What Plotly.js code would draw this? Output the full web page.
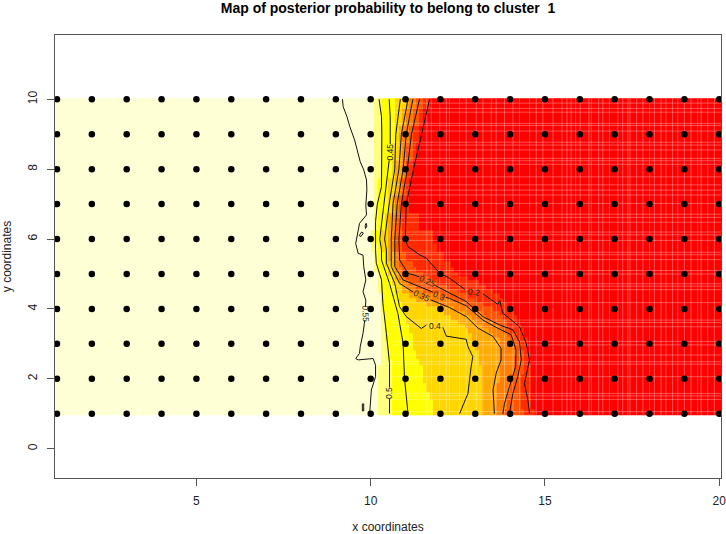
<!DOCTYPE html>
<html><head><meta charset="utf-8">
<script src="https://cdn.plot.ly/plotly-3.0.1.min.js"></script>
<style>html,body{margin:0;padding:0;background:#fff}</style></head>
<body><div id="chart" style="width:726px;height:534px"></div>
<script>
const gridX=[1,2,3,4,5,6,7,8,9,10,11,12,13,14,15,16,17,18,19,20];
const gridY=[1,2,3,4,5,6,7,8,9,10];
const bandColors=['#FFFFD5','#FFFF80','#FFFF00','#FFD700','#FFAA00','#FF8000','#FF5500','#FF2A00','#FF0000'];
const rowY=[10,9.5,9,8.5,8,7.5,7,6.5,6,5.75,5.5,5.25,5.125,5,4.875,4.75,4.625,4.5,4.375,4.25,4.125,4,3.875,3.75,3.625,3.5,3.375,3.25,3.125,3,2.875,2.75,2.625,2.5,2.25,2,1.75,1.5,1.25,1];
const rowBreaks=[
[10.11,10.26,10.75,10.97,11.12,11.3,11.55,11.7],
[10.12,10.3,10.7,10.88,11.02,11.18,11.38,11.52],
[10.12,10.32,10.66,10.8,10.94,11.08,11.25,11.38],
[10.12,10.32,10.64,10.78,10.9,11.03,11.15,11.26],
[10.12,10.3,10.62,10.75,10.87,10.98,11.05,11.17],
[10.12,10.25,10.55,10.66,10.78,10.88,10.97,11.1],
[10.1,10.19,10.47,10.58,10.7,10.8,10.9,11.07],
[10.06,10.16,10.38,10.52,10.64,10.74,10.88,11.36],
[10.02,10.14,10.33,10.5,10.62,10.72,10.9,11.79],
[10.04,10.15,10.35,10.5,10.62,10.72,10.95,11.95],
[10.07,10.17,10.38,10.53,10.65,10.76,11.05,12.1],
[10.1,10.2,10.45,10.6,10.7,10.85,11.2,12.3],
[10.12,10.23,10.5,10.64,10.75,10.9,11.35,12.4],
[10.15,10.26,10.54,10.68,10.8,10.95,11.5,12.55],
[10.17,10.28,10.58,10.73,10.85,11.02,11.7,12.85],
[10.2,10.3,10.62,10.78,10.9,11.1,11.9,13.1],
[10.22,10.31,10.67,10.86,11.0,11.28,12.2,13.3],
[10.24,10.32,10.72,10.95,11.1,11.5,12.5,13.5],
[10.26,10.33,10.77,11.1,11.4,12.0,12.8,13.65],
[10.27,10.34,10.82,11.3,11.7,12.4,13.0,13.8],
[10.29,10.35,10.88,11.6,12.05,12.65,13.25,13.95],
[10.3,10.35,10.93,11.88,12.4,12.9,13.5,14.05],
[10.3,10.36,10.97,12.1,12.65,13.15,13.65,14.12],
[10.31,10.38,11.0,12.3,12.9,13.35,13.8,14.2],
[10.32,10.39,11.04,12.55,13.05,13.55,13.88,14.25],
[10.32,10.4,11.08,12.75,13.25,13.7,13.95,14.3],
[10.33,10.42,11.12,12.85,13.42,13.85,14.05,14.36],
[10.33,10.43,11.15,12.9,13.55,13.95,14.15,14.42],
[10.33,10.45,11.18,12.95,13.65,14.03,14.22,14.46],
[10.33,10.47,11.21,13.0,13.75,14.1,14.3,14.5],
[10.32,10.5,11.25,13.04,13.75,14.13,14.34,14.52],
[10.3,10.52,11.3,13.08,13.75,14.15,14.37,14.53],
[10.28,10.54,11.34,13.1,13.74,14.14,14.39,14.54],
[10.27,10.56,11.38,13.12,13.72,14.12,14.4,14.55],
[10.24,10.6,11.47,13.15,13.68,14.08,14.38,14.56],
[10.21,10.62,11.55,13.17,13.65,14.05,14.35,14.56],
[10.2,10.63,11.62,13.18,13.63,14.0,14.32,14.58],
[10.18,10.63,11.7,13.19,13.62,13.95,14.3,14.6],
[10.17,10.62,11.77,13.2,13.6,13.9,14.35,14.62],
[10.16,10.62,11.83,13.2,13.6,13.85,14.4,14.65]];
const seamX=[11.61,11.74,11.98,12.17,12.26,12.55,12.74,13.03,13.22,13.46,13.60,13.84,14.08,14.27,14.56,14.75,14.94,15.23,15.49,15.63,15.75,15.88,16.01,16.26,16.33,16.54,16.66,16.85,17.09,17.23,17.38,17.44,17.63,17.81,18.0,18.14,18.33,18.47,18.66,18.81,19.0,19.19,19.38,19.48,19.67,19.86];
const seamY=[9.89,9.74,9.63,9.31,9.25,9.09,8.77,8.69,8.55,8.31,8.24,8.14,7.78,7.55,7.40,7.26,7.02,6.71,6.62,6.48,6.2,6.12,5.96,5.62,5.55,5.41,5.1,5.0,4.72,4.65,4.55,4.18,3.68,3.61,3.49,3.07,2.97,2.68,2.49,2.42,2.06,1.58,1.51,1.41,1.06];

const c55x=[9.19,9.21,9.32,9.40,9.54,9.64,9.70,9.80,9.88,9.89,9.86,9.88,9.68,9.57,9.64,9.78,9.80,9.86,9.78,9.86,9.85,null,9.83,9.78,9.70,9.68,9.57,9.64,10.07,10.14,10.14,10.02,9.97,null,9.85,9.89,9.87,9.84,9.85,null,9.67,9.74,9.79,9.72,9.67,null,9.76,9.80,9.80,9.76,9.76];
const c55y=[10,9.79,9.50,9.22,8.83,8.45,8.21,7.98,7.69,7.40,6.97,6.69,6.45,5.87,5.59,5.54,5.21,4.83,4.49,4.25,4.06,null,3.68,3.30,2.92,2.73,2.58,2.54,2.58,2.39,2.06,1.68,1.01,null,6.30,6.37,6.45,6.38,6.30,null,6.10,6.20,6.17,6.07,6.10,null,1.08,1.08,1.28,1.28,1.08];
const c50x=[10.24,10.31,10.32,10.32,10.31,10.31,10.19,10.14,10.14,10.16,10.31,10.35,10.45,10.54,10.54,null,10.54,10.54];
const c50y=[10,9.5,9,8.5,8,7.5,7,6.5,5.69,5.31,4.83,4.16,3.30,2.44,1.75,null,1.42,1.01];
const c45x=[10.53,10.56,10.56,null,10.53,10.50,10.37,10.26,10.31,10.31,10.54,10.78,10.93,10.97,11.07];
const c45y=[10,9.5,8.72,null,8.25,8,7,6,5.69,5.40,4.73,3.87,3.01,2.01,1.01];
const c40x=[10.85,10.72,10.69,10.53,10.40,10.45,10.45,10.69,10.83,11.02,11.45,11.6,null,12.07,12.17,12.74,12.79,12.93,12.88,12.79,12.55];
const c40y=[10,9,8,7,6,5.69,5.31,4.73,4.06,3.78,3.44,3.54,null,3.47,3.22,3.13,2.92,2.63,2.34,1.58,1.0];
const c35x=[11.07,10.88,10.81,10.64,10.59,10.59,10.59,10.83,11.21,null,11.72,11.98,12.26,12.74,13.08,13.51,13.74,13.74,13.60,13.51,13.55];
const c35y=[10,9,8,7,6,5.69,5.21,4.73,4.49,null,4.26,4.16,4.04,3.78,3.45,3.21,2.87,2.54,2.16,1.68,1.0];
const c30x=[11.21,11.02,10.93,10.76,10.69,10.69,10.69,10.93,11.40,11.78,null,12.16,12.26,12.74,13.22,13.60,14.03,14.17,14.16,13.98,13.84,13.79];
const c30y=[10,9,8,7,6,5.69,5.21,4.83,4.64,4.48,null,4.33,4.30,4.09,3.68,3.47,3.26,2.83,2.35,1.77,1.30,1.0];
const c25x=[11.40,11.17,11.05,10.88,10.81,10.83,10.83,11.07,11.40,null,11.83,12.26,12.74,13.22,13.70,14.08,14.27,14.32,14.22,14.08,13.98];
const c25y=[10,9,8,7,6,5.69,5.40,5.02,4.92,null,4.68,4.46,4.21,3.78,3.54,3.40,3.06,2.54,2.06,1.58,1.0];
const c20x=[11.69,11.45,11.23,11.02,10.99,11.07,11.40,11.60,11.98,12.26,12.70,null,13.22,13.51,13.65,13.70,13.79,14.27,14.46,14.56,14.41,14.51,14.56];
const c20y=[10,9,8,7,6,5.78,5.55,5.45,5.02,4.88,4.56,null,4.43,4.21,4.13,4.24,3.88,3.49,3.02,2.54,1.87,1.39,1.0];
const labelText=['0.55','0.5','0.45','0.4','0.35','0.3','0.25','0.2'];
const labelX=[9.84,10.54,10.56,11.85,11.46,11.97,11.62,12.96];
const labelY=[3.87,1.58,8.48,3.50,4.36,4.37,4.80,4.49];
const labelAngle=[88,-90,-90,0,25,25,25,8];

const axisXrange=[0.943,20.05], axisYrange=[-0.84,11.84];
const cellX=[]; for(let i=98;i<=152;i++) cellX.push(i/10);
const xEdges=[axisXrange[0],...cellX,axisXrange[1]];
const xCentres=xEdges.slice(0,-1).map((v,i)=>(v+xEdges[i+1])/2);
const yEdges=[10.03,...rowY.slice(1).map((v,i)=>(v+rowY[i])/2),0.97];
const z=rowBreaks.map(b=>xCentres.map(x=>b.filter(e=>x>=e).length));
const n=bandColors.length;
const scale=[];bandColors.forEach((c,i)=>{scale.push([i/n,c]);scale.push([(i+1)/n,c]);});
const line=(x,y,name)=>({type:'scatter',mode:'lines',x,y,name,showlegend:false,hoverinfo:'skip',connectgaps:false,line:{color:'#111',width:1}});
const seamTrace=(x,y)=>({type:'scatter',mode:'lines',x,y,showlegend:false,hoverinfo:'skip',connectgaps:false,line:{color:'rgba(255,255,255,0.3)',width:1}});
const traces=[
 {type:'heatmap',x:xEdges,y:yEdges,z,zmin:-0.5,zmax:n-0.5,colorscale:scale,showscale:false,hoverinfo:'skip',zsmooth:false},
 seamTrace(seamX.flatMap(s=>[s,s,null]),seamX.flatMap(()=>[0.97,10.03,null])),
 seamTrace(seamY.flatMap(()=>[10.6,axisXrange[1],null]),seamY.flatMap(s=>[s,s,null])),
 line(c55x,c55y,'0.55'),line(c50x,c50y,'0.5'),line(c45x,c45y,'0.45'),line(c40x,c40y,'0.4'),
 line(c35x,c35y,'0.35'),line(c30x,c30y,'0.3'),line(c25x,c25y,'0.25'),line(c20x,c20y,'0.2'),
 {type:'scatter',mode:'markers',x:gridY.flatMap(()=>gridX),y:gridY.flatMap(v=>gridX.map(()=>v)),marker:{color:'#000',size:6.5},showlegend:false,hoverinfo:'skip'}
];
const font='"Liberation Sans",Arial,sans-serif';
const axisCommon={showgrid:false,zeroline:false,showline:true,mirror:true,linecolor:'#555',linewidth:1,ticks:'outside',ticklen:7,tickwidth:1,tickcolor:'#555',ticklabelstandoff:5,ticklabeloverflow:'allow',tickfont:{family:font,size:12,color:'#222'},fixedrange:true};
const layout={width:726,height:534,autosize:false,paper_bgcolor:'#fff',plot_bgcolor:'#fff',showlegend:false,
 margin:{l:55,r:4.5,t:35,b:56,pad:0},font:{family:font},
 title:{text:'<b>Map of posterior probability to belong to cluster  1</b>',font:{family:font,size:14,color:'#000'},x:388/726,xanchor:'center',y:1-8/534,yanchor:'middle'},
 xaxis:{...axisCommon,range:axisXrange,tickvals:[5,10,15,20],title:{text:'x coordinates',font:{family:font,size:12,color:'#222'},standoff:18}},
 yaxis:{...axisCommon,range:axisYrange,tickvals:[0,2,4,6,8,10],tickangle:-90,title:{text:'y coordinates',font:{family:font,size:12,color:'#222'},standoff:16}},
 annotations:labelText.map((t,i)=>({x:labelX[i],y:labelY[i],text:t,textangle:labelAngle[i],showarrow:false,font:{family:font,size:8.5,color:'#222'},xref:'x',yref:'y'}))
};
Plotly.newPlot('chart',traces,layout,{displayModeBar:false,staticPlot:true});
</script></body></html>
